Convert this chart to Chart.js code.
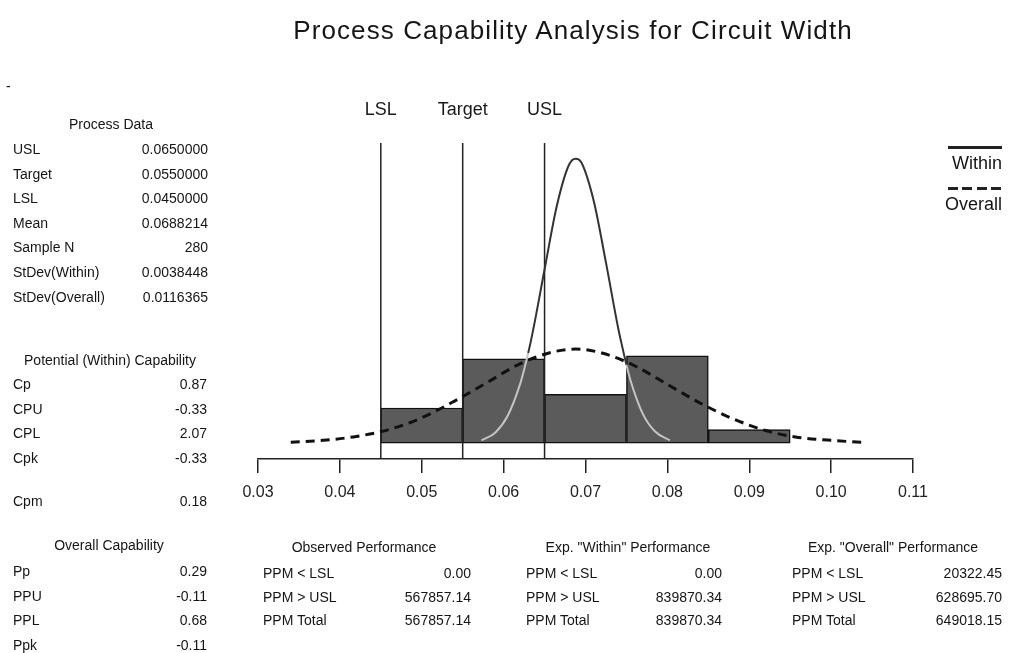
<!DOCTYPE html>
<html>
<head>
<meta charset="utf-8">
<script src="https://cdn.jsdelivr.net/npm/chart.js@4.4.1/dist/chart.umd.min.js"></script>
<style>
  body { margin: 0; background: #fff; }
  #wrap { position: relative; width: 1009px; height: 653px; font-family: "Liberation Sans", Arial, sans-serif; color: #151515; }
  #chart { position: absolute; left: 0; top: 0; }
  .t { position: absolute; font-size: 14px; line-height: 16px; white-space: nowrap; }
  .r { text-align: right; }
  .c { transform: translateX(-50%); }
  #title { position: absolute; left: 573px; top: 15px; transform: translateX(-50%); font-size: 26px; letter-spacing: 1.1px; white-space: nowrap; }
  .leg { position: absolute; font-size: 18px; line-height: 20px; white-space: nowrap; text-align: right; width: 80px; }
</style>
</head>
<body>
<div id="wrap">
  <canvas id="chart" width="1009" height="653"></canvas>
  <div id="title">Process Capability Analysis for Circuit Width</div>
</div>
<script>
// histogram (bin centres and counts)
const binCentres = [0.05, 0.06, 0.07, 0.08, 0.09];
const binCounts = [36, 86, 50, 89, 14];

// fitted curves (counts per bin)
const withinX = [0.0573, 0.059, 0.0605, 0.062, 0.0625, 0.063, 0.0635, 0.065, 0.0665, 0.068, 0.0688, 0.0695, 0.071, 0.0725, 0.074, 0.0745, 0.075, 0.0755, 0.077, 0.0785, 0.0803];
const withinY = [3, 11, 28, 60, 75, 92, 111, 177, 242, 284, 290, 286, 247, 184, 117, 98, 80, 64, 30, 12, 3];
const overallX = [0.034, 0.038, 0.042, 0.046, 0.050, 0.054, 0.058, 0.062, 0.066, 0.0688, 0.072, 0.076, 0.080, 0.084, 0.088, 0.092, 0.096, 0.100, 0.1037];
const overallY = [1, 3, 7, 14, 26, 43, 62, 81, 93, 96, 92, 79, 60, 41, 25, 13, 6, 3, 1];

// spec limits
const specNames = ['LSL', 'Target', 'USL'];
const specValues = [0.045, 0.055, 0.065];
const specTop = 306;

const xTicks = [0.03, 0.04, 0.05, 0.06, 0.07, 0.08, 0.09, 0.10, 0.11];

// tables
const processLabels = ['USL', 'Target', 'LSL', 'Mean', 'Sample N', 'StDev(Within)', 'StDev(Overall)'];
const processValues = ['0.0650000', '0.0550000', '0.0450000', '0.0688214', '280', '0.0038448', '0.0116365'];
const potentialLabels = ['Cp', 'CPU', 'CPL', 'Cpk', 'Cpm'];
const potentialValues = ['0.87', '-0.33', '2.07', '-0.33', '0.18'];
const overallCapLabels = ['Pp', 'PPU', 'PPL', 'Ppk'];
const overallCapValues = ['0.29', '-0.11', '0.68', '-0.11'];
const ppmLabels = ['PPM < LSL', 'PPM > USL', 'PPM Total'];
const observedPPM = ['0.00', '567857.14', '567857.14'];
const withinPPM = ['0.00', '839870.34', '839870.34'];
const overallPPM = ['20322.45', '628695.70', '649018.15'];

const wrap = document.getElementById('wrap');
function addText(txt, x, y, cls) {
    const d = document.createElement('div');
    d.className = 't ' + (cls || '');
    d.textContent = txt;
    d.style.top = (y - 8) + 'px';
    if (cls === 'r') { d.style.right = (1009 - x) + 'px'; } else { d.style.left = x + 'px'; }
    wrap.appendChild(d);
}
function addTable(labels, values, lx, rx, ys) {
    labels.forEach((l, i) => {
        addText(l, lx, ys[i]);
        addText(values[i], rx, ys[i], 'r');
    });
}

addText('-', 6, 86);
addText('Process Data', 111, 124, 'c');
addTable(processLabels, processValues, 13, 208, [149, 173.5, 198, 222.5, 247, 272, 296.5]);
addText('Potential (Within) Capability', 110, 360, 'c');
addTable(potentialLabels, potentialValues, 13, 207, [384, 409, 433, 458, 501]);
addText('Overall Capability', 109, 545, 'c');
addTable(overallCapLabels, overallCapValues, 13, 207, [571, 595.5, 620, 645]);

addText('Observed Performance', 364, 547, 'c');
addTable(ppmLabels, observedPPM, 263, 471, [573, 597, 620]);
addText('Exp. "Within" Performance', 628, 547, 'c');
addTable(ppmLabels, withinPPM, 526, 722, [573, 597, 620]);
addText('Exp. "Overall" Performance', 893, 547, 'c');
addTable(ppmLabels, overallPPM, 792, 1002, [573, 597, 620]);

// legend
function legendItem(name, y, dashed) {
    const line = document.createElement('div');
    line.style.position = 'absolute';
    line.style.left = '948px';
    line.style.top = (y - 17) + 'px';
    line.style.width = '54px';
    line.style.height = '3px';
    line.style.background = dashed
        ? 'repeating-linear-gradient(to right, #222 0 10px, transparent 10px 14.5px)'
        : '#222';
    wrap.appendChild(line);
    const t = document.createElement('div');
    t.className = 'leg';
    t.textContent = name;
    t.style.right = '7px';
    t.style.top = (y - 10) + 'px';
    wrap.appendChild(t);
}
legendItem('Within', 163, false);
legendItem('Overall', 204, true);

function binHeightAt(x) {
    const i = Math.floor((x - (binCentres[0] - 0.005)) / 0.01);
    return (i >= 0 && i < binCounts.length) ? binCounts[i] : -1;
}

const specLabelPlugin = {
    id: 'specLabels',
    afterDraw(chart) {
        const c = chart.ctx;
        const xs = chart.scales.x;
        c.save();
        c.font = '18px "Liberation Sans", Arial, sans-serif';
        c.fillStyle = '#1a1a1a';
        c.textAlign = 'center';
        c.textBaseline = 'middle';
        specValues.forEach((v, i) => c.fillText(specNames[i], xs.getPixelForValue(v), 110));
        c.restore();
    }
};

const datasets = [
    {
        type: 'bar',
        data: binCentres.map((x, i) => ({ x: x, y: binCounts[i] })),
        backgroundColor: '#5b5b5b',
        borderColor: '#111',
        borderWidth: 1.5,
        borderSkipped: false,
        barPercentage: 1,
        categoryPercentage: 1,
        order: 3
    },
    {
        type: 'line',
        data: withinX.map((x, i) => ({ x: x, y: withinY[i] })),
        borderColor: '#333',
        borderWidth: 2,
        pointRadius: 0,
        tension: 0.4,
        cubicInterpolationMode: 'monotone',
        segment: {
            borderColor: ctx => {
                const xm = (ctx.p0.parsed.x + ctx.p1.parsed.x) / 2;
                const ym = (ctx.p0.parsed.y + ctx.p1.parsed.y) / 2;
                return ym < binHeightAt(xm) ? '#c4c4c4' : '#333';
            }
        },
        order: 1
    },
    {
        type: 'line',
        data: overallX.map((x, i) => ({ x: x, y: overallY[i] })),
        borderColor: '#111',
        borderWidth: 3,
        borderDash: [9, 6],
        pointRadius: 0,
        tension: 0.4,
        cubicInterpolationMode: 'monotone',
        order: 1
    }
];

specValues.forEach(v => {
    datasets.push({
        type: 'line',
        data: [{ x: v, y: -16 }, { x: v, y: specTop }],
        borderColor: '#222',
        borderWidth: 1.5,
        pointRadius: 0,
        order: 2
    });
});

new Chart(document.getElementById('chart').getContext('2d'), {
    type: 'bar',
    data: { datasets: datasets },
    options: {
        responsive: false,
        animation: false,
        devicePixelRatio: 1,
        layout: { padding: { left: 258, right: 96, top: 139, bottom: 0 } },
        plugins: { legend: { display: false }, tooltip: { enabled: false } },
        scales: {
            x: {
                type: 'linear',
                min: 0.03,
                max: 0.11,
                offset: false,
                afterFit: s => { s.height = 194; },
                afterBuildTicks: s => { s.ticks = xTicks.map(v => ({ value: v })); },
                ticks: {
                    callback: v => v.toFixed(2),
                    font: { family: '"Liberation Sans", Arial, sans-serif', size: 16 },
                    color: '#222',
                    padding: 10,
                    maxRotation: 0
                },
                grid: { offset: false, drawOnChartArea: false, drawTicks: true, tickLength: 14, color: '#222', lineWidth: 1.5 },
                border: { display: true, color: '#222', width: 1.5 }
            },
            y: { display: false, min: -16, max: 310 }
        }
    },
    plugins: [specLabelPlugin]
});
</script>
</body>
</html>
